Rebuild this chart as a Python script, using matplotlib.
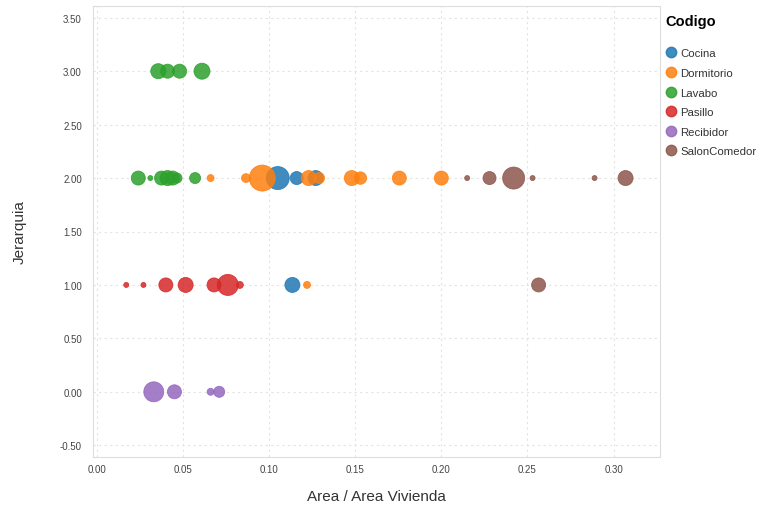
import matplotlib
matplotlib.use("Agg")
import matplotlib.pyplot as plt

plt.rcParams['font.family'] = ['Liberation Sans', 'DejaVu Sans']

categories = ["Cocina", "Dormitorio", "Lavabo", "Pasillo", "Recibidor", "SalonComedor"]
colors = ["#1f77b4", "#ff7f0e", "#2ca02c", "#d62728", "#9467bd", "#8c564b"]

cocina_x = [0.105, 0.116, 0.127, 0.1135]
cocina_y = [2, 2, 2, 1]
cocina_s = [274, 88, 117, 117]

dormitorio_x = [0.066, 0.0865, 0.096, 0.123, 0.129, 0.148, 0.153, 0.1756, 0.200, 0.122]
dormitorio_y = [2, 2, 2, 2, 2, 2, 2, 2, 2, 1]
dormitorio_s = [25, 40, 350, 117, 63, 117, 80, 102, 102, 25]

lavabo_x = [0.0356, 0.041, 0.048, 0.061, 0.024, 0.031, 0.0375, 0.041, 0.044, 0.0465, 0.057]
lavabo_y = [3, 3, 3, 3, 2, 2, 2, 2, 2, 2, 2]
lavabo_s = [117, 102, 102, 133, 102, 13, 102, 117, 102, 52, 63]

pasillo_x = [0.017, 0.027, 0.040, 0.0515, 0.068, 0.076, 0.083]
pasillo_y = [1, 1, 1, 1, 1, 1, 1]
pasillo_s = [13, 13, 102, 117, 102, 229, 25]

recibidor_x = [0.033, 0.045, 0.066, 0.071]
recibidor_y = [0, 0, 0, 0]
recibidor_s = [207, 102, 25, 63]

salon_x = [0.215, 0.228, 0.242, 0.253, 0.289, 0.307, 0.2565]
salon_y = [2, 2, 2, 2, 2, 2, 1]
salon_s = [13, 88, 251, 13, 13, 117, 102]

series = [
    (cocina_x, cocina_y, cocina_s),
    (dormitorio_x, dormitorio_y, dormitorio_s),
    (lavabo_x, lavabo_y, lavabo_s),
    (pasillo_x, pasillo_y, pasillo_s),
    (recibidor_x, recibidor_y, recibidor_s),
    (salon_x, salon_y, salon_s),
]

x_ticks = [0.00, 0.05, 0.10, 0.15, 0.20, 0.25, 0.30]
y_ticks = [-0.5, 0.0, 0.5, 1.0, 1.5, 2.0, 2.5, 3.0, 3.5]

fig = plt.figure(figsize=(7.63, 5.06), dpi=100)
ax = fig.add_axes([93/763, 1-458/506, (660-93)/763, (458-7)/506])

for name, col, (xs, ys, ss) in zip(categories, colors, series):
    ax.scatter(xs, ys, s=ss, color=col, alpha=0.85, edgecolor=col, linewidth=0.6,
               label=name, zorder=3)

ax.set_xlim(-0.0023, 0.327)
ax.set_ylim(-0.61, 3.61)
ax.set_xticks(x_ticks)
ax.set_xticklabels([f"{v:.2f}" for v in x_ticks])
ax.set_yticks(y_ticks)
ax.set_yticklabels([f"{v:.2f}" for v in y_ticks])
ax.tick_params(axis='both', length=0, labelsize=7, colors='#444444')
ax.tick_params(axis='x', pad=5)
ax.tick_params(axis='y', pad=8)
ax.grid(True, linestyle=(0, (2, 3)), color='#e3e3e3', linewidth=0.8, zorder=0)
for sp in ax.spines.values():
    sp.set_color('#dddddd')
    sp.set_linewidth(0.8)

ax.set_xlabel("Area / Area Vivienda", fontsize=11, color='#333333', labelpad=11)
ax.set_ylabel("Jerarquia", fontsize=11, color='#333333', labelpad=24)

handles = [plt.Line2D([], [], marker='o', linestyle='', markersize=7.5, color=c, alpha=0.85)
           for c in colors]
leg = fig.legend(handles, categories, loc='upper left', bbox_to_anchor=(661/763, 1-10/506),
                 frameon=False, title="Codigo", fontsize=8.2, handletextpad=0.3,
                 labelspacing=0.84, borderaxespad=0, handlelength=1.0, alignment='left')
leg.get_title().set_fontweight('bold')
leg.get_title().set_fontsize(10.5)
leg._legend_box.sep = 15
for t in leg.get_texts():
    t.set_color('#333333')

fig.savefig("out.png", dpi=100)
